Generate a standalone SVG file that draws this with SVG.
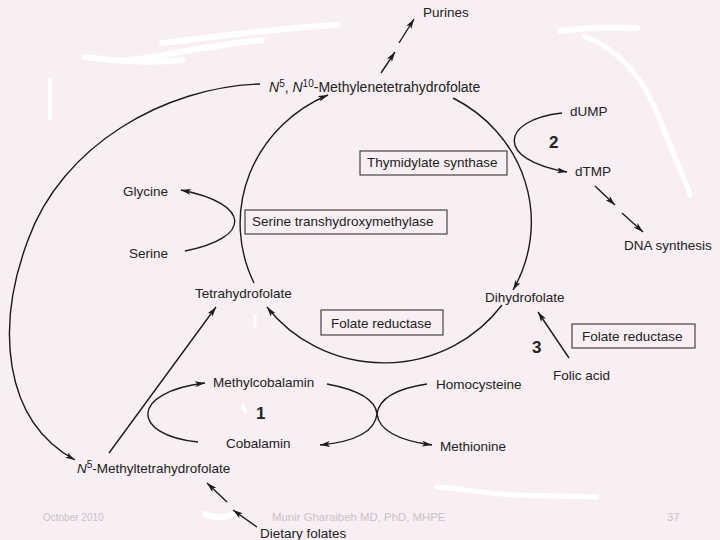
<svg xmlns="http://www.w3.org/2000/svg" width="720" height="540" viewBox="0 0 720 540">
<defs>
<style>
text{font-family:"Liberation Sans",Arial,sans-serif;font-size:13.5px;fill:#222}
.num{font-weight:bold;font-size:17px}
.foot{font-size:11.4px;fill:#cbc1c6}
.box{fill:none;stroke:#333;stroke-width:1.1}
.ln{fill:none;stroke:#1c1c1c;stroke-width:1.4}
.arr{marker-end:url(#ah)}
.scr{fill:none;stroke:#ffffff;stroke-linecap:round;stroke-linejoin:round}
</style>
<marker id="ah" viewBox="0 0 10 6" refX="10" refY="3" markerWidth="10" markerHeight="6" markerUnits="userSpaceOnUse" orient="auto">
<path d="M0,0 L10,3 L0,6 L2.5,3 z" fill="#1c1c1c"/>
</marker>
</defs>
<rect width="720" height="540" fill="#f8eef3"/>

<g id="scribbles">
<path class="scr" stroke-width="6" d="M85,57 C120,62 160,63 182,60"/>
<path class="scr" stroke-width="6" d="M130,60 C170,55 210,45 262,40"/>
<path class="scr" stroke-width="6" d="M162,43 C220,36 280,28 337,25"/>
<path class="scr" stroke-width="4" d="M50,80 L50,118"/>
<path class="scr" stroke-width="6" d="M560,31 C590,27 615,27 637,28"/>
<path class="scr" stroke-width="5" d="M584,36 C620,50 645,80 660,120 C675,160 686,180 690,195"/>
<path class="scr" stroke-width="5" d="M437,487 C470,489 485,494 515,495 L597,497"/>
<path class="scr" stroke-width="6" d="M205,514 C215,519 226,518 234,513"/>
<path class="scr" stroke-width="3" d="M255,316 L255,326"/>
<path class="scr" stroke-width="4" d="M243,406 L245,411"/>
</g>

<g id="connectors">
<path class="ln arr" d="M254,283 A146,140 0 0 1 328,95"/>
<path class="ln arr" d="M453,98 A146,140 0 0 1 513,290"/>
<path class="ln arr" d="M502,305 A146,140 0 0 1 267,307"/>
<path class="ln arr" d="M381,73 L395,52"/>
<path class="ln arr" d="M399,43 L414,19"/>
<path class="ln arr" d="M260,84 C165,87 62,145 28,240 C-4,325 2,420 75,460"/>
<path class="ln arr" d="M185,251 C252,238 252,204 181,190"/>
<path class="ln arr" d="M562,113 C500,120 495,160 567,172"/>
<path class="ln arr" d="M595,186 L615,205"/>
<path class="ln arr" d="M622,213 L643,232"/>
<path class="ln arr" d="M569,358 L538,312"/>
<path class="ln arr" d="M109,453 L216,307"/>
<path class="ln arr" d="M198,442 C130,435 130,392 205,383"/>
<path class="ln arr" d="M327,384 Q375,393 377,414 Q380,438 432,445"/>
<path class="ln arr" d="M427,384 Q380,391 377,414 Q374,440 320,445"/>
<path class="ln arr" d="M257,527 L233,510"/>
<path class="ln arr" d="M227,502 L207,483"/>
</g>

<g id="purines"><text x="423" y="16.5">Purines</text></g>
<g id="methylene-thf"><text x="269" y="91.5" style="font-size:14px"><tspan font-style="italic">N</tspan><tspan dy="-5" font-size="10">5</tspan><tspan dy="5">, </tspan><tspan font-style="italic">N</tspan><tspan dy="-5" font-size="10">10</tspan><tspan dy="5">-Methylenetetrahydrofolate</tspan></text></g>
<g id="dump"><text x="570" y="115.5">dUMP</text></g>
<g id="dtmp"><text x="575" y="176">dTMP</text></g>
<g id="label-2"><text class="num" x="549" y="147.5">2</text></g>
<g id="thymidylate-synthase"><rect class="box" x="360" y="151" width="147" height="24"/><text x="367" y="167">Thymidylate synthase</text></g>
<g id="dna-synthesis"><text x="624" y="249.5">DNA synthesis</text></g>
<g id="glycine"><text x="123" y="195.5">Glycine</text></g>
<g id="serine"><text x="129" y="257.5">Serine</text></g>
<g id="serine-transhydroxymethylase"><rect class="box" x="245" y="210" width="202" height="24"/><text x="252" y="226">Serine transhydroxymethylase</text></g>
<g id="tetrahydrofolate"><text x="195" y="297.5">Tetrahydrofolate</text></g>
<g id="dihydrofolate"><text x="485" y="301.5">Dihydrofolate</text></g>
<g id="folate-reductase-1"><rect class="box" x="321" y="310" width="122" height="25"/><text x="331" y="327.5">Folate reductase</text></g>
<g id="folate-reductase-2"><rect class="box" x="572" y="324" width="123" height="24"/><text x="582" y="340.5">Folate reductase</text></g>
<g id="label-3"><text class="num" x="532" y="353">3</text></g>
<g id="folic-acid"><text x="553" y="379.5">Folic acid</text></g>
<g id="methylcobalamin"><text x="213" y="386.5">Methylcobalamin</text></g>
<g id="homocysteine"><text x="436" y="388.5">Homocysteine</text></g>
<g id="label-1"><text class="num" x="256" y="419">1</text></g>
<g id="cobalamin"><text x="226" y="447.5">Cobalamin</text></g>
<g id="methionine"><text x="440" y="450.5">Methionine</text></g>
<g id="n5-methyl-thf"><text x="77" y="472.5"><tspan font-style="italic">N</tspan><tspan dy="-5" font-size="10">5</tspan><tspan dy="5">-Methyltetrahydrofolate</tspan></text></g>
<g id="dietary-folates"><text x="260" y="537.5">Dietary folates</text></g>

<g id="footer">
<text class="foot" x="43" y="521" style="font-size:10px">October 2010</text>
<text class="foot" x="272" y="521">Munir Gharaibeh MD, PhD, MHPE</text>
<text class="foot" x="667" y="521">37</text>
</g>
</svg>
